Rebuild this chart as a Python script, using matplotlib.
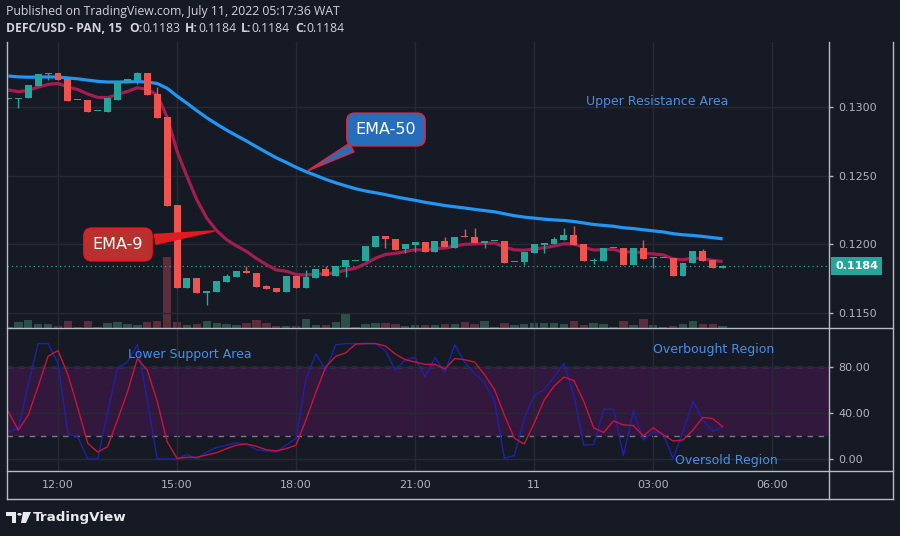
import matplotlib
matplotlib.use('Agg')
import matplotlib.pyplot as plt
import matplotlib.dates as mdates
import matplotlib.ticker as mticker
from matplotlib.lines import Line2D
from matplotlib.patches import Polygon, Circle
import numpy as np
import pandas as pd

W, H = 900, 536
BG = '#161A25'
GRID = '#262A35'
FRAME = '#B8BBC3'
TEXT = '#B2B5BE'
UP = '#26A69A'
DOWN = '#EF5350'
NOTE = '#4A8FE3'

# DEFC/USD 15 min candles, 10 Jul 10:45 -> 11 Jul 04:45
times = pd.date_range('2022-07-10 10:45', periods=73, freq='15min')

opens = [0.13065, 0.13065, 0.13067, 0.13159, 0.13243, 0.13250, 0.13208, 0.13056, 0.13055, 0.12972,
         0.12969, 0.13055, 0.13184, 0.13201, 0.13250, 0.13099, 0.12928, 0.12287, 0.11683, 0.11754,
         0.11642, 0.11654, 0.11727, 0.11763, 0.11807, 0.11788, 0.11695, 0.11681, 0.11654, 0.11768,
         0.11683, 0.11756, 0.11817, 0.11768, 0.11836, 0.11879, 0.11880, 0.11982, 0.12061, 0.12039,
         0.11963, 0.11997, 0.12017, 0.11946, 0.12022, 0.11975, 0.12052, 0.12051, 0.12012, 0.12021,
         0.12022, 0.11872, 0.11873, 0.11939, 0.11997, 0.12002, 0.12031, 0.12068, 0.12002, 0.11879,
         0.11880, 0.11971, 0.11973, 0.11849, 0.11973, 0.11897, 0.11897, 0.11898, 0.11770, 0.11861,
         0.11951, 0.11885, 0.11829]
highs = [0.13068, 0.13068, 0.13164, 0.13243, 0.13252, 0.13250, 0.13208, 0.13056, 0.13055, 0.12974,
         0.13067, 0.13184, 0.13208, 0.13262, 0.13250, 0.13152, 0.12928, 0.12287, 0.11754, 0.11754,
         0.11659, 0.11732, 0.11781, 0.11807, 0.11844, 0.11788, 0.11700, 0.11681, 0.11768, 0.11768,
         0.11812, 0.11817, 0.11841, 0.11841, 0.11885, 0.11881, 0.11988, 0.12061, 0.12061, 0.12039,
         0.12002, 0.12015, 0.12017, 0.12022, 0.12051, 0.12051, 0.12110, 0.12119, 0.12022, 0.12023,
         0.12022, 0.11874, 0.11944, 0.12002, 0.12010, 0.12051, 0.12119, 0.12134, 0.12002, 0.11900,
         0.11973, 0.11973, 0.11973, 0.11973, 0.12031, 0.11905, 0.11899, 0.11898, 0.11863, 0.11951,
         0.11963, 0.11885, 0.11846]
lows = [0.13064, 0.12999, 0.13067, 0.13159, 0.13201, 0.13201, 0.13050, 0.13054, 0.12969, 0.12972,
        0.12969, 0.13055, 0.13184, 0.13170, 0.13091, 0.12925, 0.12282, 0.11683, 0.11683, 0.11642,
        0.11556, 0.11654, 0.11727, 0.11763, 0.11788, 0.11690, 0.11675, 0.11654, 0.11654, 0.11683,
        0.11683, 0.11756, 0.11770, 0.11768, 0.11763, 0.11879, 0.11880, 0.11982, 0.11975, 0.11961,
        0.11939, 0.11946, 0.11946, 0.11946, 0.11978, 0.11975, 0.12050, 0.12012, 0.11971, 0.12021,
        0.11865, 0.11872, 0.11849, 0.11939, 0.11934, 0.12002, 0.12031, 0.11995, 0.11880, 0.11856,
        0.11880, 0.11971, 0.11849, 0.11849, 0.11895, 0.11829, 0.11897, 0.11770, 0.11770, 0.11861,
        0.11880, 0.11829, 0.11829]
closes = [0.13067, 0.13067, 0.13164, 0.13243, 0.13250, 0.13201, 0.13050, 0.13054, 0.12969, 0.12974,
          0.13067, 0.13184, 0.13208, 0.13250, 0.13091, 0.12925, 0.12282, 0.11683, 0.11754, 0.11642,
          0.11659, 0.11732, 0.11768, 0.11807, 0.11788, 0.11690, 0.11675, 0.11654, 0.11768, 0.11683,
          0.11759, 0.11817, 0.11770, 0.11841, 0.11885, 0.11881, 0.11988, 0.12061, 0.12037, 0.11961,
          0.12002, 0.12015, 0.11946, 0.12022, 0.11978, 0.12051, 0.12050, 0.12012, 0.12022, 0.12023,
          0.11865, 0.11874, 0.11944, 0.12002, 0.12010, 0.12039, 0.12068, 0.11995, 0.11880, 0.11881,
          0.11973, 0.11973, 0.11849, 0.11973, 0.11895, 0.11899, 0.11899, 0.11770, 0.11863, 0.11951,
          0.11880, 0.11829, 0.11842]
volumes = [1.0, 5.7, 7.7, 3.7, 3.7, 1.7, 6.7, 0.7, 6.7, 0.7,
           4.7, 5.7, 3.7, 2.7, 5.7, 6.7, 71.0, 5.7, 3.0, 4.0,
           7.0, 5.0, 4.0, 3.0, 5.0, 8.0, 5.0, 2.0, 2.0, 2.0,
           9.5, 3.0, 3.0, 6.0, 14.5, 0.7, 3.7, 4.7, 4.7, 3.7,
           1.7, 2.7, 2.7, 2.7, 3.7, 3.7, 5.7, 3.7, 6.7, 0.7,
           5.0, 3.3, 4.3, 5.3, 5.3, 5.3, 4.3, 7.3, 3.3, 5.3,
           4.3, 1.3, 7.3, 3.3, 9.3, 3.3, 1.3, 2.3, 4.3, 7.3,
           4.3, 4.3, 2.3]
# EMA values just before the first visible candle
ema9_seed = 0.13143
ema50_seed = 0.13237

# Stochastic RSI %K / %D
stoch_k = [23.7, 26.6, 64, 100, 100, 83, 22, 19, 0, 0,
           40, 79, 84, 99, 51, 0, 0, 0, 4, 0,
           6, 10, 12, 14, 13, 8, 7, 6, 12, 18,
           70, 91, 77, 99, 100, 100, 100, 100, 94, 77,
           86, 88, 71, 88, 75, 99, 84, 74, 66, 50,
           0.5, 3, 35, 55, 60, 71, 83, 55, 12, 12.5,
           43, 43, 3, 41.6, 16.5, 23.7, 22, 0.5, 23.7, 50,
           34, 24, 28]
stoch_d = [41, 25, 38, 63, 89, 94, 73, 44, 13.6, 6,
           10.7, 34, 58, 87, 77, 50, 15, 0.5, 1.5, 1.5,
           3.5, 5.5, 9, 12, 13, 11, 8, 7, 9, 12,
           34, 58, 80, 89, 92, 99.6, 100, 100, 98, 91,
           86, 84, 82, 82, 78, 87, 86, 84, 73, 60,
           38, 18, 13, 31, 51, 63, 71, 68, 50, 27,
           23, 33, 29.5, 29, 20, 27, 21, 15.6, 16.5, 25,
           36, 35, 28]


def fx(px):
    return px / W


def fy(py):
    return 1 - py / H


fig = plt.figure(figsize=(W / 100, H / 100), dpi=100, facecolor=BG)
main_rect = [fx(7), fy(328), fx(829) - fx(7), fy(42) - fy(328)]
vol_ax = fig.add_axes(main_rect, facecolor=BG)
ax = fig.add_axes(main_rect, facecolor='none')
osc_ax = fig.add_axes([fx(7), fy(471), fx(829) - fx(7), fy(328) - fy(471)], facecolor=BG)

x = mdates.date2num(times.to_pydatetime())
step = x[1] - x[0]
xlim = (x[0] - 0.141 * step, x[0] + 82.72 * step)

o = np.array(opens)
c = np.array(closes)
up = c >= o
colors = np.where(up, UP, DOWN)

# volume underneath
vol_colors = np.where(up, '#2C5049', '#5C2D3A')
vol_ax.bar(x, volumes, width=0.85 * step, color=vol_colors, linewidth=0)
vol_ax.set_ylim(0, max(volumes) * 288 / 71)
vol_ax.set_xlim(*xlim)
vol_ax.axis('off')

# emas
ema9 = pd.Series([ema9_seed] + closes).ewm(span=9, adjust=False).mean().to_numpy()[1:]
ema50 = pd.Series([ema50_seed] + closes).ewm(span=50, adjust=False).mean().to_numpy()[1:]
ax.plot(x, ema50, color='#2196F3', lw=2.3, zorder=2, solid_capstyle='butt')
ax.plot(x, ema9, color='#A31D50', lw=2.3, zorder=2, solid_capstyle='butt')

# candles
ax.vlines(x, lows, highs, colors=colors, lw=1, zorder=3)
ax.bar(x, np.maximum(np.abs(c - o), 0.00007), bottom=np.minimum(o, c),
       width=0.7 * step, color=colors, linewidth=0, zorder=4)

ax.axhline(closes[-1], color=UP, lw=0.9, ls=(0, (1, 2.5)), zorder=1)

ax.set_xlim(*xlim)
ax.set_ylim(0.113881, 0.134788)
ax.yaxis.tick_right()
ax.set_yticks([0.115, 0.12, 0.125, 0.13])
ax.yaxis.set_major_formatter(mticker.FormatStrFormatter('%.4f'))
ax.xaxis.set_major_locator(mdates.HourLocator(byhour=range(0, 24, 3)))
ax.tick_params(axis='y', colors=TEXT, labelsize=8, length=3, width=1, pad=4)
ax.tick_params(axis='x', length=0, labelbottom=False)
ax.grid(True, color=GRID, lw=1, zorder=0)
for s in ax.spines.values():
    s.set_visible(False)

ax.text(1.0 + 6 / 822, closes[-1], f'{closes[-1]:.4f}', transform=ax.get_yaxis_transform(),
        ha='left', va='center', color='white', fontsize=8, fontweight='bold',
        bbox=dict(boxstyle='square,pad=0.35', fc=UP, ec='none'), clip_on=False, zorder=7)

ax.annotate('EMA-50', xy=(x[30], ema50[30]), xytext=(0.461, 0.694), textcoords='axes fraction',
            ha='center', va='center', fontsize=11.5, color='white', zorder=6,
            bbox=dict(boxstyle='round,pad=0.55,rounding_size=0.5', fc='#266EBA', ec='#D42A45', lw=1.2),
            arrowprops=dict(arrowstyle='wedge,tail_width=0.6,shrink_factor=0.5',
                            fc='#266EBA', ec='#D42A45', lw=1.2))
ax.annotate('EMA-9', xy=(x[21], ema9[21]), xytext=(0.135, 0.292), textcoords='axes fraction',
            ha='center', va='center', fontsize=11.5, color='white', zorder=6,
            bbox=dict(boxstyle='round,pad=0.55,rounding_size=0.5', fc='#B7312F', ec='#F0141E', lw=1.2),
            arrowprops=dict(arrowstyle='wedge,tail_width=0.6,shrink_factor=0.5',
                            fc='#D42222', ec='#F0141E', lw=1.2))
ax.text(0.791, 0.792, 'Upper Resistance Area', transform=ax.transAxes, ha='center',
        va='center', color=NOTE, fontsize=9)

# stochastic rsi pane
osc_ax.axhspan(20, 80, color='#33183E', zorder=0, lw=0)
osc_ax.axhline(80, color='#787B86', lw=1, ls=(0, (4, 4)), zorder=1)
osc_ax.axhline(20, color='#787B86', lw=1, ls=(0, (4, 4)), zorder=1)
osc_ax.plot(x, stoch_k, color='#1E22AA', lw=1, zorder=3)
osc_ax.plot(x, stoch_d, color='#C8143C', lw=1, zorder=4)
osc_ax.set_xlim(*xlim)
osc_ax.set_ylim(-10.4, 113.5)
osc_ax.yaxis.tick_right()
osc_ax.set_yticks([0, 40, 80])
osc_ax.yaxis.set_major_formatter(mticker.FormatStrFormatter('%.2f'))
osc_ax.xaxis.set_major_locator(mdates.HourLocator(byhour=range(0, 24, 3)))


def time_label(v, pos):
    d = mdates.num2date(v)
    return d.strftime('%d') if d.hour == 0 else d.strftime('%H:%M')


osc_ax.xaxis.set_major_formatter(mticker.FuncFormatter(time_label))
osc_ax.tick_params(axis='y', colors=TEXT, labelsize=8, length=3, width=1, pad=4)
osc_ax.tick_params(axis='x', colors=TEXT, labelsize=8, length=0, pad=6.5)
osc_ax.grid(True, color=GRID, lw=1, zorder=0)
for s in osc_ax.spines.values():
    s.set_visible(False)

osc_ax.text(0.223, 0.818, 'Lower Support Area', transform=osc_ax.transAxes, ha='center',
            va='center', color=NOTE, fontsize=9)
osc_ax.text(0.860, 0.853, 'Overbought Region', transform=osc_ax.transAxes, ha='center',
            va='center', color=NOTE, fontsize=9)
osc_ax.text(0.875, 0.07, 'Oversold Region', transform=osc_ax.transAxes, ha='center',
            va='center', color=NOTE, fontsize=9)

# frame lines
for x0, y0, x1, y1 in [(7, 42, 7, 499), (829, 42, 829, 499), (893, 42, 893, 499),
                       (7, 328, 893, 328), (7, 471, 893, 471), (7, 499, 893, 499)]:
    fig.add_artist(Line2D([fx(x0), fx(x1)], [fy(y0), fy(y1)], transform=fig.transFigure,
                          color=FRAME, lw=1))

# header
fig.text(fx(6), fy(12), 'Published on TradingView.com, July 11, 2022 05:17:36 WAT',
         color='#D1D4DC', fontsize=8.8, family='Open Sans', va='center')
renderer = fig.canvas.get_renderer()
pos = 6
for txt, wt, gap in [('DEFC/USD - PAN, 15', 'bold', 7), ('O:', 'bold', 0), ('0.1183', 'normal', 5),
                     ('H:', 'bold', 0), ('0.1184', 'normal', 5), ('L:', 'bold', 0),
                     ('0.1184', 'normal', 5), ('C:', 'bold', 0), ('0.1184', 'normal', 0)]:
    t = fig.text(fx(pos), fy(29), txt, color='#D1D4DC', fontsize=8.7, family='Open Sans',
                 fontweight=wt, va='center')
    pos += t.get_window_extent(renderer=renderer).width + gap

# logo
fig.add_artist(Polygon([(fx(6), fy(512)), (fx(16), fy(512)), (fx(16), fy(523)), (fx(12), fy(523)),
                        (fx(12), fy(516)), (fx(6), fy(516))], closed=True,
                       transform=fig.transFigure, fc='#E8EAED', ec='none'))
fig.add_artist(Circle((fx(19.5), fy(514.3)), 2.2 / W, transform=fig.transFigure,
                      fc='#E8EAED', ec='none'))
fig.add_artist(Polygon([(fx(23), fy(512)), (fx(31), fy(512)), (fx(26), fy(523)), (fx(21), fy(523))],
                       closed=True, transform=fig.transFigure, fc='#E8EAED', ec='none'))
fig.text(fx(33), fy(517.5), 'TradingView', color='#E8EAED', fontsize=9.7, fontweight='bold',
         va='center')

fig.savefig('out.png', dpi=100, facecolor=BG)
